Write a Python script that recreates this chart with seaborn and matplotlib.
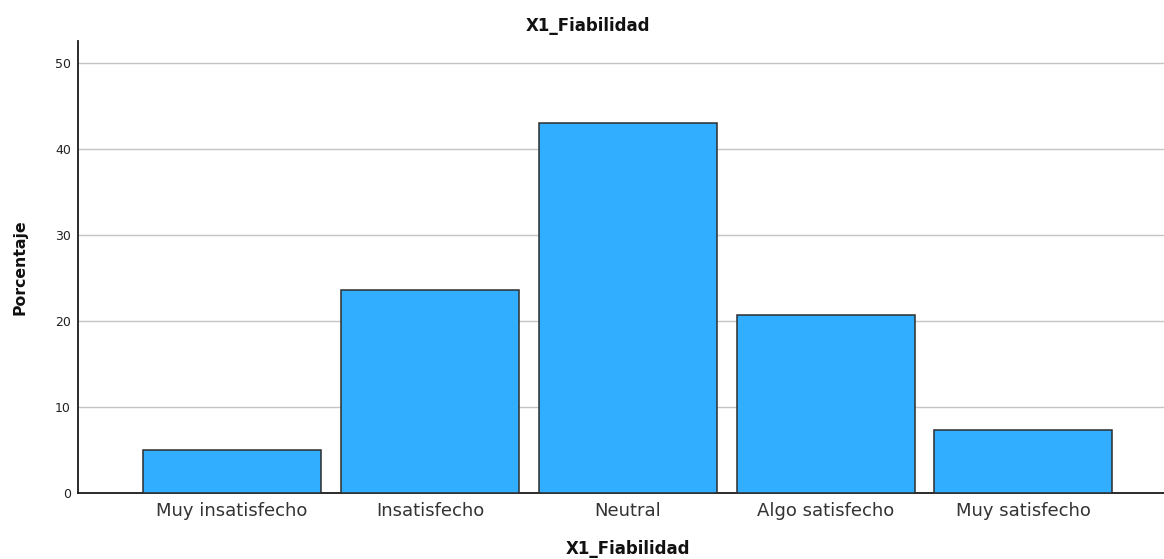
import matplotlib
matplotlib.use("Agg")
import matplotlib.pyplot as plt
import seaborn as sns
import pandas as pd

# Frequency table for X1_Fiabilidad (percent of respondents)
categories = ["Muy insatisfecho", "Insatisfecho", "Neutral", "Algo satisfecho", "Muy satisfecho"]
percentages = [5.0, 23.6, 43.0, 20.7, 7.4]
y_ticks = [0, 10, 20, 30, 40, 50]

df = pd.DataFrame({"categoria": categories, "porcentaje": percentages})

sns.set_theme(style="white")
plt.rcParams["font.family"] = ["DejaVu Sans"]

W, H = 1164, 559
fig = plt.figure(figsize=(W / 100, H / 100), dpi=100)
fig.patch.set_facecolor("white")

left_px, right_px, top_px, bottom_px = 77.7, 1164.0, 40.7, 493.3
ax = fig.add_axes([left_px / W, (H - bottom_px) / H,
                   (right_px - left_px) / W, (bottom_px - top_px) / H])

sns.barplot(data=df, x="categoria", y="porcentaje", order=categories,
            color="#31AEFF", saturation=1, width=0.9,
            edgecolor="#2e2e2e", linewidth=1.1, ax=ax, zorder=3)

ax.set_xlim(-0.781, 4.711)
ax.set_ylim(0, 52.56)
ax.set_yticks(y_ticks)
ax.set_yticklabels([str(t) for t in y_ticks])

ax.set_axisbelow(True)
ax.yaxis.grid(True, color="#c4c4c4", linewidth=1.0)
ax.xaxis.grid(False)

for side in ("top", "right"):
    ax.spines[side].set_visible(False)
for side in ("left", "bottom"):
    ax.spines[side].set_visible(True)
    ax.spines[side].set_color("#1a1a1a")
    ax.spines[side].set_linewidth(1.3)

ax.tick_params(axis="y", length=0, pad=5, labelsize=9, labelcolor="#222222")
ax.tick_params(axis="x", length=0, pad=6, labelsize=13, labelcolor="#333333")

ax.set_xlabel("X1_Fiabilidad", fontsize=12, fontweight="bold", color="#111111")
ax.xaxis.set_label_coords((628 - left_px) / (right_px - left_px),
                          (bottom_px - 548.5) / (bottom_px - top_px))
ax.xaxis.label.set_verticalalignment("center")

ax.set_ylabel("Porcentaje", fontsize=11.3, fontweight="bold", color="#111111")
ax.yaxis.set_label_coords((20 - left_px) / (right_px - left_px), 0.5)
ax.yaxis.label.set_verticalalignment("center")

fig.text(588 / W, 1 - 26 / H, "X1_Fiabilidad", ha="center", va="center",
         fontsize=12, fontweight="bold", color="#111111")

fig.savefig("out.png", dpi=100, facecolor="white")
